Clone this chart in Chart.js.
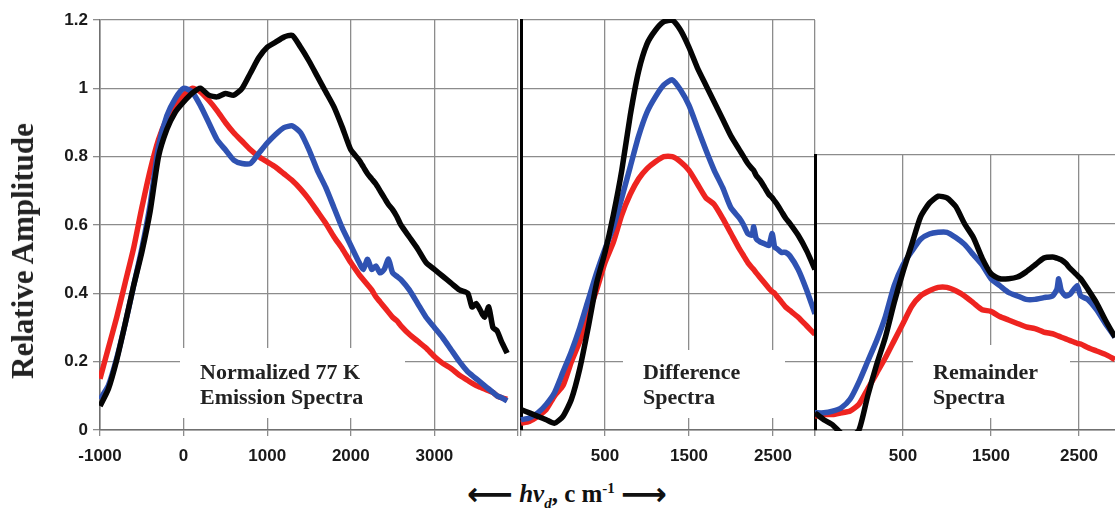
<!DOCTYPE html>
<html>
<head>
<meta charset="utf-8">
<script src="https://cdn.jsdelivr.net/npm/chart.js@4"></script>
<style>
  html, body { margin: 0; padding: 0; background: #fff; }
  #wrap { position: relative; width: 1115px; height: 510px; overflow: hidden; background: #fff; }
  canvas { position: absolute; top: 0; }
  .note { position: absolute; font-family: "Liberation Serif", "Times New Roman", serif; font-weight: bold;
          font-size: 22px; line-height: 25px; color: #222; white-space: nowrap; }
  #ytitle { position: absolute; left: 23px; top: 251px; transform: translate(-50%, -50%) rotate(-90deg);
            font-family: "Liberation Serif", serif; font-weight: bold; font-size: 31px; color: #222; white-space: nowrap; }
  #xtitle { position: absolute; left: 567px; top: 494px; transform: translate(-50%, -50%);
            font-family: "Liberation Serif", serif; font-weight: bold; font-size: 25px; color: #111; white-space: nowrap; }
  #xtitle .arr { font-family: "DejaVu Sans", sans-serif; font-weight: bold; font-size: 32px; vertical-align: -3px; }
</style>
</head>
<body>
<div id="wrap">
  <canvas id="c1" width="520" height="470" style="left:0px"></canvas>
  <canvas id="c2" width="300" height="470" style="left:517px"></canvas>
  <canvas id="c3" width="304" height="470" style="left:811px"></canvas>
  <div id="ytitle">Relative Amplitude</div>
  <div id="xtitle"><span class="arr">⟵</span> <i>h&#957;<sub style="font-size:15px">d</sub></i>, c m<sup style="font-size:15px">-1</sup> <span class="arr">⟶</span></div>
  <div class="note" style="left:200px; top:359px">Normalized 77 K<br>Emission Spectra</div>
  <div class="note" style="left:643px; top:359px">Difference<br>Spectra</div>
  <div class="note" style="left:933px; top:359px">Remainder<br>Spectra</div>
</div>
<script>
// panel 1: normalized 77 K emission spectra
const p1X = [-1000,-900,-800,-700,-600,-500,-400,-300,-200,-100,0,100,200,300,400,500,600,700,800,900,
  1000,1100,1200,1300,1400,1500,1600,1700,1800,1900,2000,2100,2150,2200,2250,2300,2350,2400,2450,2500,2550,2600,
  2700,2800,2900,3000,3100,3200,3300,3400,3450,3500,3550,3600,3650,3700,3750,3800,3870];
const p1Black = [0.07,0.12,0.205,0.31,0.42,0.52,0.64,0.8,0.88,0.93,0.96,0.985,1.0,0.98,0.975,0.985,0.98,1.0,1.045,1.09,
  1.12,1.135,1.15,1.155,1.12,1.08,1.035,0.99,0.945,0.885,0.82,0.79,0.77,0.75,0.735,0.72,0.70,0.68,0.66,0.645,0.625,0.60,
  0.565,0.53,0.49,0.47,0.45,0.43,0.41,0.40,0.36,0.37,0.35,0.33,0.36,0.30,0.29,0.26,0.225];
const p1Blue = [0.09,0.13,0.21,0.31,0.42,0.53,0.66,0.83,0.92,0.97,1.0,0.99,0.95,0.9,0.85,0.82,0.79,0.78,0.78,0.81,
  0.84,0.865,0.885,0.89,0.87,0.82,0.76,0.71,0.65,0.59,0.54,0.49,0.47,0.5,0.47,0.48,0.46,0.47,0.5,0.46,0.45,0.44,
  0.41,0.37,0.33,0.30,0.27,0.235,0.2,0.17,0.16,0.15,0.14,0.13,0.12,0.11,0.10,0.095,0.085];
const p1Red = [0.15,0.24,0.33,0.43,0.53,0.65,0.76,0.85,0.91,0.95,0.98,1.0,0.99,0.965,0.935,0.9,0.87,0.845,0.82,0.8,
  0.785,0.77,0.75,0.73,0.705,0.675,0.64,0.605,0.565,0.53,0.49,0.455,0.44,0.425,0.41,0.39,0.375,0.36,0.345,0.33,0.32,0.305,
  0.28,0.26,0.24,0.215,0.195,0.18,0.16,0.145,0.137,0.13,0.125,0.12,0.115,0.11,0.10,0.095,0.09];

// panel 2: difference spectra
const p2X = [-500,-400,-300,-200,-100,0,100,200,300,400,500,600,700,800,900,1000,1100,1200,1300,1400,1500,1600,1700,
  1800,1900,2000,2100,2150,2200,2250,2270,2300,2350,2400,2450,2490,2520,2550,2600,2650,2700,2800,2900,3000];
const p2Black = [0.06,0.05,0.04,0.03,0.02,0.04,0.09,0.18,0.3,0.43,0.52,0.63,0.76,0.92,1.05,1.13,1.17,1.195,1.2,1.17,1.12,1.06,1.01,
  0.96,0.91,0.86,0.82,0.80,0.78,0.765,0.76,0.745,0.73,0.71,0.69,0.68,0.67,0.66,0.64,0.62,0.605,0.57,0.525,0.47];
const p2Blue = [0.03,0.035,0.05,0.075,0.11,0.17,0.23,0.3,0.38,0.46,0.53,0.595,0.68,0.77,0.86,0.93,0.975,1.01,1.025,0.995,0.95,0.885,0.82,
  0.76,0.71,0.65,0.62,0.60,0.575,0.57,0.595,0.56,0.55,0.545,0.54,0.575,0.535,0.53,0.52,0.52,0.51,0.47,0.41,0.34];
const p2Red = [0.02,0.025,0.04,0.06,0.1,0.13,0.2,0.26,0.34,0.41,0.49,0.55,0.63,0.69,0.735,0.765,0.785,0.8,0.8,0.785,0.76,0.72,0.68,
  0.66,0.62,0.575,0.53,0.51,0.49,0.475,0.47,0.46,0.445,0.43,0.415,0.405,0.40,0.39,0.375,0.36,0.35,0.33,0.305,0.28];

// panel 3: remainder spectra
const p3X = [-500,-400,-300,-200,-100,0,100,200,300,400,500,600,700,800,900,1000,1100,1200,1300,1400,1500,1600,1700,
  1800,1900,2000,2100,2200,2250,2270,2300,2350,2400,2480,2520,2600,2700,2800,2910];
const p3Black = [0.05,0.03,0.015,-0.01,-0.02,0.0,0.1,0.19,0.27,0.37,0.46,0.54,0.62,0.66,0.68,0.675,0.65,0.6,0.56,0.5,0.455,0.44,0.44,
  0.445,0.46,0.48,0.5,0.503,0.5,0.498,0.495,0.485,0.47,0.45,0.44,0.41,0.37,0.32,0.27];
const p3Blue = [0.05,0.05,0.055,0.065,0.09,0.14,0.2,0.26,0.33,0.42,0.48,0.52,0.555,0.57,0.575,0.575,0.56,0.54,0.51,0.48,0.44,0.42,0.40,
  0.39,0.38,0.38,0.385,0.39,0.41,0.44,0.405,0.39,0.395,0.42,0.39,0.38,0.35,0.31,0.27];
const p3Red = [0.04,0.045,0.045,0.05,0.055,0.075,0.12,0.165,0.21,0.26,0.31,0.36,0.39,0.405,0.415,0.415,0.405,0.39,0.37,0.35,0.345,0.33,0.32,
  0.31,0.30,0.295,0.285,0.28,0.275,0.273,0.27,0.265,0.26,0.252,0.25,0.24,0.23,0.22,0.205];

const p2Ticks = [-500, 500, 1500, 2500, 3000];
const p3Ticks = [-500, 500, 1500, 2500];

const BLACK = '#050505', BLUE = '#2f52b2', RED = '#ee2420';
const GRID = '#8c8c8c';
const tickFont = { family: 'Liberation Sans, Arial, sans-serif', size: 17, weight: 'bold' };

function series(xs, ys, color) {
  return {
    data: xs.map((x, i) => ({ x: x, y: ys[i] })),
    borderColor: color, borderWidth: 5.5, pointRadius: 0, tension: 0.2, fill: false, clip: 1
  };
}

// white box behind the panel captions (covers the grid only)
const noteBox = {
  id: 'noteBox',
  beforeDatasetsDraw(chart, args, opts) {
    const c = chart.ctx;
    c.save();
    c.fillStyle = '#fff';
    c.fillRect(opts.x, opts.y, opts.w, opts.h);
    c.restore();
  }
};

function opts(cfg) {
  return {
    responsive: false, animation: false, events: [],
    layout: { padding: { top: cfg.top, right: cfg.right, left: cfg.left, bottom: 0 } },
    plugins: { legend: { display: false }, tooltip: { enabled: false }, noteBox: cfg.box },
    scales: {
      x: {
        type: 'linear', min: cfg.xmin, max: cfg.xmax,
        afterFit: s => { s.height = 40; s.paddingLeft = 0; s.paddingRight = 0; },
        afterBuildTicks: cfg.xticks ? (s => { s.ticks = cfg.xticks.map(v => ({ value: v })); }) : undefined,
        ticks: { stepSize: 1000, font: tickFont, color: '#1a1a1a', padding: 10, maxRotation: 0, autoSkip: false,
                 callback: v => cfg.hide.includes(v) ? '' : String(v) },
        grid: { color: GRID, lineWidth: 1.3, tickLength: 6, tickColor: GRID },
        border: { color: '#707070', width: 1.5 }
      },
      y: {
        min: 0, max: cfg.ymax,
        afterFit: s => { s.width = cfg.yw; },
        ticks: { display: cfg.yticks, stepSize: 0.2, font: tickFont, color: '#1a1a1a', padding: 5,
                 callback: v => String(Math.round(v * 10) / 10) },
        grid: { color: GRID, lineWidth: 1.3, drawTicks: cfg.yticks, tickLength: 7, tickColor: GRID },
        border: { color: cfg.ycolor, width: cfg.ybw }
      }
    }
  };
}

new Chart(document.getElementById('c1'), {
  type: 'line',
  data: { datasets: [series(p1X, p1Black, BLACK), series(p1X, p1Blue, BLUE), series(p1X, p1Red, RED)] },
  options: opts({ top: 20, right: 2, left: 0, xmin: -1000, xmax: 4000, hide: [4000], ymax: 1.2, yw: 100,
                  yticks: true, ycolor: '#707070', ybw: 1.5, box: { x: 180, y: 348, w: 225, h: 70 } }),
  plugins: [noteBox]
});

new Chart(document.getElementById('c2'), {
  type: 'line',
  data: { datasets: [series(p2X, p2Black, BLACK), series(p2X, p2Blue, BLUE), series(p2X, p2Red, RED)] },
  options: opts({ top: 20, right: 2, left: 4, xmin: -500, xmax: 3000, xticks: p2Ticks, hide: [-500, 3000], ymax: 1.2, yw: 0,
                  yticks: false, ycolor: '#000', ybw: 3, box: { x: 106, y: 350, w: 162, h: 68 } }),
  plugins: [noteBox]
});

new Chart(document.getElementById('c3'), {
  type: 'line',
  data: { datasets: [series(p3X, p3Black, BLACK), series(p3X, p3Blue, BLUE), series(p3X, p3Red, RED)] },
  options: opts({ top: 155, right: 0, left: 4, xmin: -500, xmax: 2910, xticks: p3Ticks, hide: [-500], ymax: 0.8, yw: 0,
                  yticks: false, ycolor: '#000', ybw: 3, box: { x: 102, y: 345, w: 157, h: 73 } }),
  plugins: [noteBox]
});
</script>
</body>
</html>
